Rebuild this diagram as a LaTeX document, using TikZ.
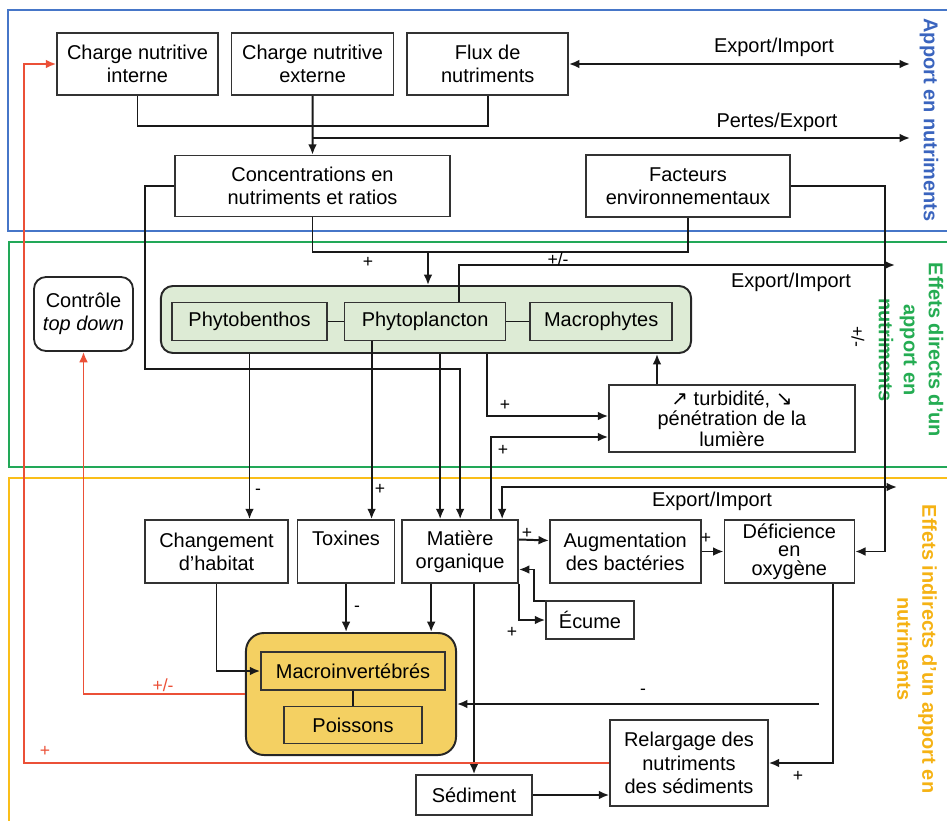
\documentclass[tikz,border=0pt]{standalone}
\usepackage{fontspec}
\setmainfont{Liberation Sans}
\newfontfamily\arrowfont{DejaVu Sans}
\usetikzlibrary{positioning,calc,arrows.meta}

\definecolor{algaefill}{RGB}{221,235,213}
\definecolor{faunafill}{RGB}{244,208,98}
\definecolor{blueframe}{RGB}{70,118,200}
\definecolor{greenframe}{RGB}{34,168,88}
\definecolor{yellowframe}{RGB}{250,190,25}
\definecolor{bluetext}{RGB}{58,100,190}
\definecolor{greentext}{RGB}{36,172,82}
\definecolor{yellowtext}{RGB}{245,178,20}
\definecolor{redline}{RGB}{235,80,55}

\newcommand{\diagfont}{\fontsize{14.2}{16.5}\selectfont}
\newcommand{\signsize}{\fontsize{12.5}{14}\selectfont}

\begin{document}
\begin{tikzpicture}[
x=0.025cm, y=-0.025cm,
>={Latex[length=2.6mm,width=2.2mm]},
squarednode/.style={rectangle, draw=black!80, line width=1.1pt, fill=white, align=center, inner sep=1pt, font=\diagfont},
greennode/.style={squarednode, fill=algaefill},
yellownode/.style={squarednode, fill=faunafill},
roundnode/.style={rectangle, rounded corners=0.3cm, draw=black!85, line width=1.3pt, fill=white, align=center, inner sep=1pt, font=\diagfont},
groupnode/.style={rectangle, rounded corners=0.3cm, draw=black!85, line width=1.4pt},
link/.style={line width=1.4pt, draw=black!90},
redlink/.style={line width=1.3pt, draw=redline},
sign/.style={font=\signsize, inner sep=0pt},
flowlabel/.style={font=\diagfont, inner sep=0pt},
framelabel/.style={font=\fontsize{14.2}{17.8}\selectfont\bfseries, rotate=-90, align=center, inner sep=0pt},
]
\useasboundingbox (0,0) rectangle (947,821);

%Frames
\draw[line width=2.1pt, blueframe] (947,10) -- (8,10) -- (8,231) -- (947,231);
\draw[line width=2.1pt, greenframe] (947,242) -- (9,242) -- (9,467) -- (947,467);
\draw[line width=2.1pt, yellowframe] (947,478) -- (9,478) -- (9,821);
\node[framelabel, text=bluetext] (lblapport) at (929,120) {Apport en nutriments};
\node[framelabel, text=greentext] (lbldirect) at (911,350) {Effets directs d'un\\apport en\\nutriments};
\node[framelabel, text=yellowtext] (lblindirect) at (917,649) {Effets indirects d'un apport en\\nutriments};

%Nodes
\node[squarednode, minimum width=4.025cm, minimum height=1.55cm] (chargeint) at (137.5,64) {Charge nutritive\\interne};
\node[squarednode, minimum width=4.05cm, minimum height=1.55cm] (chargeext) [right=0.3cm of chargeint] {Charge nutritive\\externe};
\node[squarednode, minimum width=4.025cm, minimum height=1.55cm] (flux) [right=0.3cm of chargeext] {Flux de\\nutriments};

\node[squarednode, minimum width=6.875cm, minimum height=1.525cm] (conc) at (312.5,186) {Concentrations en\\nutriments et ratios};
\node[squarednode, minimum width=5.1cm, minimum height=1.55cm] (fact) at (688,186) {Facteurs\\environnementaux};

\node[roundnode, minimum width=2.475cm, minimum height=1.85cm] (control) at (83.5,314) {Contrôle\\\textit{top down}};

\node[groupnode, fill=algaefill, minimum width=13.25cm, minimum height=1.675cm] (algae) at (426,319.5) {};
\node[greennode, minimum width=3.875cm, minimum height=0.95cm] (benthos) at (249.5,321.5) {Phytobenthos};
\node[greennode, minimum width=4.025cm, minimum height=0.95cm] (plancton) [right=0.4cm of benthos] {Phytoplancton};
\node[greennode, minimum width=3.55cm, minimum height=0.95cm] (macrophytes) [right=0.575cm of plancton] {Macrophytes};

\node[squarednode, minimum width=6.15cm, minimum height=1.675cm, font=\fontsize{14.2}{14.5}\selectfont] (turbidity) at (732,418.5) {{\arrowfont ↗} turbidité, {\arrowfont ↘}\\pénétration de la\\lumière};

\node[squarednode, minimum width=3.575cm, minimum height=1.575cm] (habitat) at (216.5,551.5) {Changement\\d'habitat};
\node[squarednode, minimum width=2.425cm, minimum height=1.575cm] (toxins) [right=0.2cm of habitat] {Toxines\\\phantom{p}};
\node[squarednode, minimum width=2.9cm, minimum height=1.575cm] (organic) [right=0.15cm of toxins] {Matière\\organique};
\node[squarednode, minimum width=3.775cm, minimum height=1.575cm] (bacteria) [right=0.75cm of organic] {Augmentation\\des bactéries};
\node[squarednode, minimum width=3.25cm, minimum height=1.575cm, font=\fontsize{14.2}{13}\selectfont] (oxygen) [right=0.55cm of bacteria] {Déficience\\en\\oxygène};
\node[squarednode, minimum width=2.2cm, minimum height=0.95cm] (foam) at (590,620) {Écume};

\node[groupnode, fill=faunafill, rounded corners=0.45cm, minimum width=5.25cm, minimum height=3.05cm] (fauna) at (351,694) {};
\node[yellownode, minimum width=4.6cm, minimum height=0.95cm] (invert) at (353,671) {Macroinvertébrés};
\node[yellownode, minimum width=3.45cm, minimum height=0.925cm] (fish) [below=0.375cm of invert] {Poissons};

\node[squarednode, minimum width=2.9cm, minimum height=1cm] (sediment) at (474,795) {Sédiment};
\node[squarednode, minimum width=3.95cm, minimum height=2.15cm] (release) at (689,763) {Relargage des\\nutriments\\des sédiments};

%Lines
\draw[link] (benthos) -- (plancton);
\draw[link] (plancton) -- (macrophytes);
\draw[link] (invert) -- (fish);

\draw[link] (chargeint.south) -- ++(0,30) -| (flux.south);
\draw[link,->] (chargeext.south) -- (conc.north);
\coordinate (lossend) at (910,138);
\draw[link,->] (chargeext.south |- lossend) -- (lossend);
\coordinate (fluxend) at (910,64);
\draw[link,<->] (flux.east) -- (fluxend);

\coordinate (concjoin) at (428,252);
\draw[link] (conc.south) |- (concjoin) -| (fact.south);
\draw[link,->] (concjoin) -- (concjoin |- algae.north);

\coordinate (planctonend) at (895,265);
\draw[link,->] ($(plancton.north)+(33.5,0)$) |- (planctonend);
\draw[link,->] (fact.east) -| ($(oxygen.east)+(30,0)$) -- (oxygen.east);

\coordinate (concloop) at (145,369);
\draw[link,->] (conc.west) -| (concloop) -| (organic.north);

\coordinate (algaeorg) at ($(organic.north)+(-20,0)$);
\draw[link,->] (algaeorg |- algae.south) -- (algaeorg);
\draw[link,->] (benthos.south |- algae.south) -- (benthos.south |- habitat.north);
\coordinate (plantox) at ($(toxins.north)+(25.5,0)$);
\draw[link,->] (plantox |- plancton.south) -- (plantox);

\draw[link,->] ($(algae.south)+(61,0)$) |- ($(turbidity.west)+(0,-2.5)$);
\draw[link,->] ($(organic.north)+(31,0)$) |- ($(turbidity.west)+(0,18.5)$);
\coordinate (turbup) at ($(turbidity.north)+(-75,0)$);
\draw[link,->] (turbup) -- (turbup |- algae.south);

\coordinate (orgend) at (897,487);
\draw[link,<->] ($(organic.north)+(42,0)$) |- (orgend);

\draw[link,->] ($(organic.east)+(0,-12)$) -- ($(bacteria.west)+(0,-11)$);
\draw[link,->] (bacteria.east) -- (oxygen.west);
\draw[link,->] (organic.south east) |- (foam.west);
\draw[link,->] ($(foam.north west)+(0,1)$) -| ($(organic.east)+(15,18)$) -- ($(organic.east)+(0,18)$);

\coordinate (orgfauna) at ($(organic.south)+(-29,0)$);
\draw[link,->] (orgfauna) -- (orgfauna |- fauna.north);
\draw[link,->] (toxins.south) -- (toxins.south |- fauna.north);
\draw[link,->] (habitat.south) |- (invert.west);
\draw[link,->] (sediment.north |- organic.south) -- (sediment.north);
\draw[link,->] ($(oxygen.south)+(44,0)$) |- (release.east);
\coordinate (oxyminus) at (819,704);
\draw[link,->] (oxyminus) -- (oxyminus -| fauna.east);
\draw[link,->] (sediment.east) -- (sediment.east -| release.west);

\draw[redlink,->] (release.west) -| ($(chargeint.west)+(-32,0)$) -- (chargeint.west);
\draw[redlink,->] (fauna.west) -| (control.south);

%Labels
\node[flowlabel] (lblflux) at (774,47) {Export/Import};
\node[flowlabel] (lblloss) at (777,122) {Pertes/Export};
\node[flowlabel] (lblplancton) at (791,282) {Export/Import};
\node[flowlabel] (lblorganic) at (712,501) {Export/Import};

\node[sign] (signconc) at (368,262) {+};
\node[sign] (signplancton) at (558,259) {+/-};
\node[sign, rotate=-90] (signfact) at (858,337) {+/-};
\node[sign] (signturb1) at (505,405) {+};
\node[sign] (signturb2) at (503,450) {+};
\node[sign] (signhabitat) at (258,492) {-};
\node[sign] (signtoxins) at (380,489) {+};
\node[sign] (signbact) at (527,533) {+};
\node[sign] (signoxy) at (706,538) {+};
\node[sign] (signfoam) at (512,632) {+};
\node[sign] (signtoxfauna) at (357,609) {-};
\node[sign] (signminus) at (643,692) {-};
\node[sign] (signrelease) at (798,776) {+};
\node[sign, text=redline] (signcontrol) at (163,685) {+/-};
\node[sign, text=redline] (signcharge) at (45,751) {+};
\end{tikzpicture}
\end{document}
